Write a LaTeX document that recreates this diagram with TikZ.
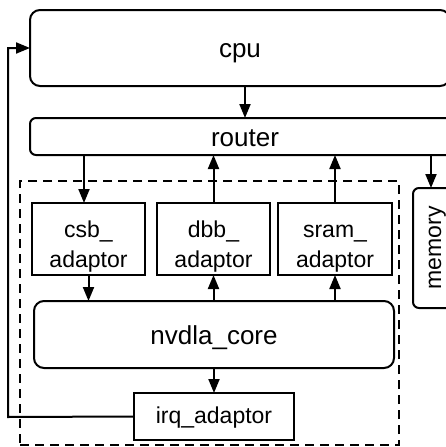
\documentclass[tikz,border=0pt]{standalone}
\usepackage{fontspec}
\setmainfont{Liberation Sans}
\usetikzlibrary{arrows.meta}
\begin{document}
\begin{tikzpicture}[x=1pt,y=1pt,
  box/.style={draw, line width=2pt, inner sep=0pt, outer sep=0pt, anchor=north west, align=center},
  rbox/.style={box, rounded corners=10pt},
  big/.style={font=\fontsize{26}{30}\selectfont, text height=19.8pt, text depth=0pt},
  small/.style={font=\fontsize{23}{30}\selectfont},
  one/.style={text height=14pt, text depth=0pt},
  arr/.style={line width=2pt, -{Triangle[length=14pt,width=11pt]}}]
\useasboundingbox (0,0) rectangle (446,-447);
\clip (0,0) rectangle (446,-447);
\fill[white] (0,0) rectangle (446,-447);
\node[rbox, big, minimum width=420, minimum height=76] (cpu) at (30,-10) {cpu};
\node[box, big, rounded corners=6pt, minimum width=430, minimum height=37] (router) at (30,-118) {router};
\node[box, dashed, dash pattern=on 9pt off 6pt, minimum width=379, minimum height=264] (dash) at (20,-181) {};
\node[box, small, minimum width=113, minimum height=72] (csb) at (32,-203) {\rule{0pt}{31pt}csb\_\\adaptor};
\node[box, small, minimum width=113, minimum height=72] (dbb) at (157,-203) {\rule{0pt}{31pt}dbb\_\\adaptor};
\node[box, small, minimum width=114, minimum height=72] (sram) at (278,-203) {\rule{0pt}{31pt}sram\_\\adaptor};
\node[draw, line width=2pt, inner sep=0pt, outer sep=0pt, rounded corners=6pt, rotate=90, small,
  text height=12pt, text depth=0pt,
  minimum width=120, minimum height=44] (mem) at (435,-248) {memory};
\node[rbox, big, minimum width=360, minimum height=67] (core) at (34,-301) {nvdla\_core};
\node[box, small, one, minimum width=160, minimum height=47] (irq) at (134,-393) {irq\_adaptor};
\coordinate (fb) at (8,-417);
\coordinate (mx) at (431,0);
\draw[arr] (cpu.south -| router.north) -- (router.north);
\draw[arr] (router.south -| 84,0) -- (csb.north -| 84,0);
\draw[arr] (dbb.north) -- (router.south -| dbb.north);
\draw[arr] (sram.north) -- (router.south -| sram.north);
\draw[arr] (router.south -| mx) -- (mem.east -| mx);
\draw[arr] (csb.south) -- (core.north -| csb.south);
\draw[arr] (core.north -| dbb.south) -- (dbb.south);
\draw[arr] (core.north -| sram.south) -- (sram.south);
\draw[arr] (core.south) -- (irq.north);
\draw[arr] (irq.west) -- (fb) |- (cpu.west);
\end{tikzpicture}
\end{document}
